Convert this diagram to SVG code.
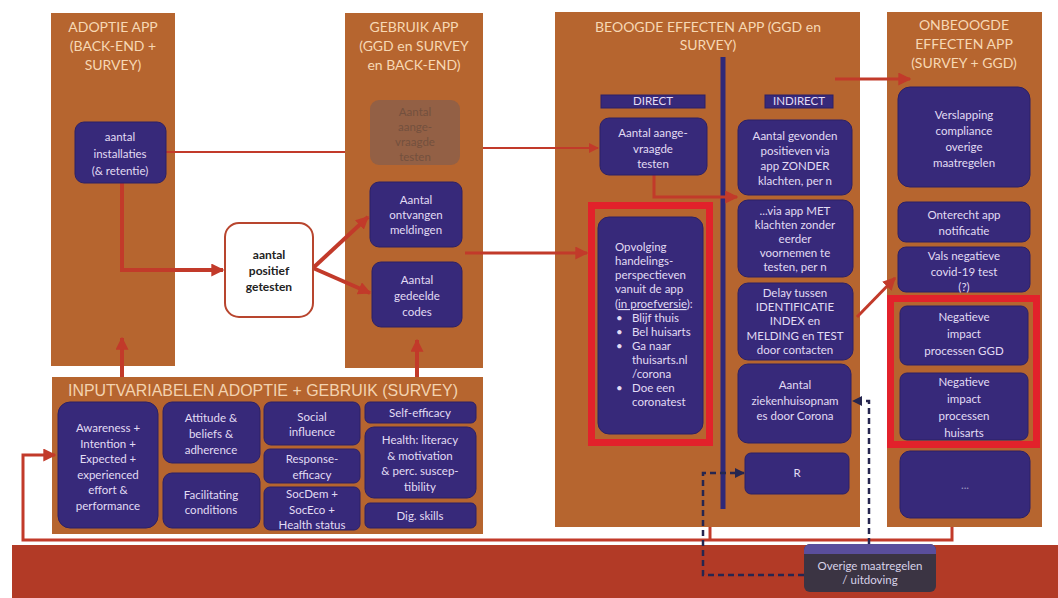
<svg xmlns="http://www.w3.org/2000/svg" width="1058" height="598" viewBox="0 0 1058 598">
<style>
.panel{fill:#B6652F}
.node{fill:#37297A;stroke:#2C2166;stroke-width:1}
.nt{font-family:Lato,"Liberation Sans",sans-serif;fill:#E2DCF4;text-anchor:middle;font-size:11.5px}
.hd{font-family:Lato,"Liberation Sans",sans-serif;fill:#F7D8B4;text-anchor:middle;font-size:14px}
.frame{fill:none;stroke:#E2222B;stroke-width:7}
.ar{stroke:#C23A2A;fill:none;stroke-linejoin:miter}
.thick{stroke-width:4}
.med{stroke-width:3}
.thin{stroke-width:2}
.dash{stroke:#262650;stroke-width:2.5;stroke-dasharray:6 4;fill:none}
</style>
<defs>
<marker id="ah" viewBox="0 0 10 10" refX="9" refY="5" markerWidth="13" markerHeight="13" markerUnits="userSpaceOnUse" orient="auto"><path d="M0,0 L10,5 L0,10 z" fill="#C23A2A"/></marker>
<marker id="ahs" viewBox="0 0 10 10" refX="9" refY="5" markerWidth="10" markerHeight="10" markerUnits="userSpaceOnUse" orient="auto"><path d="M0,0 L10,5 L0,10 z" fill="#C23A2A"/></marker>
<marker id="ahd" viewBox="0 0 10 10" refX="9" refY="5" markerWidth="10" markerHeight="10" markerUnits="userSpaceOnUse" orient="auto"><path d="M0,0 L10,5 L0,10 z" fill="#262650"/></marker>
</defs>
<rect width="1058" height="598" fill="#FFFFFF"/>
<rect x="12" y="545" width="1046" height="53" fill="#B23A26"/>

<g id="panel-adoptie">
<rect class="panel" x="51" y="13" width="124" height="353"/>
<text class="hd"><tspan x="113" y="32">ADOPTIE APP</tspan><tspan x="113" y="51">(BACK-END +</tspan><tspan x="113" y="70">SURVEY)</tspan></text>
</g>
<g id="panel-gebruik">
<rect class="panel" x="345" y="13" width="138" height="355"/>
<text class="hd"><tspan x="414" y="32">GEBRUIK APP</tspan><tspan x="414" y="51">(GGD en SURVEY</tspan><tspan x="414" y="70">en BACK-END)</tspan></text>
</g>
<g id="panel-beoogd">
<rect class="panel" x="555" y="12" width="305" height="515"/>
<text class="hd"><tspan x="708" y="32">BEOOGDE EFFECTEN APP (GGD en</tspan><tspan x="708" y="50">SURVEY)</tspan></text>
<rect x="720.5" y="57" width="5" height="452" fill="#2E2878"/>
</g>
<g id="panel-onbeoogd">
<rect class="panel" x="887" y="12" width="155" height="515"/>
<text class="hd"><tspan x="964" y="30">ONBEOOGDE</tspan><tspan x="964" y="49">EFFECTEN APP</tspan><tspan x="964" y="68">(SURVEY + GGD)</tspan></text>
</g>
<g id="panel-input">
<rect class="panel" x="52" y="377" width="431" height="157"/>
<text x="263" y="396" font-family="'Liberation Sans',Arial,sans-serif" font-size="16" fill="#F3D3B0" text-anchor="middle" textLength="390" lengthAdjust="spacingAndGlyphs">INPUTVARIABELEN ADOPTIE + GEBRUIK (SURVEY)</text>
</g>

<g id="connectors">
<path class="ar thin" d="M166,152 H345"/>
<path class="ar thin" d="M483,148 H598" marker-end="url(#ahs)"/>
<path class="ar thick" d="M122,183 V270 H223" marker-end="url(#ah)"/>
<path class="ar thick" d="M313,268 L368,217" marker-end="url(#ah)"/>
<path class="ar thick" d="M313,268 L370,293" marker-end="url(#ah)"/>
<path class="ar med" d="M465,253 H587" marker-end="url(#ah)"/>
<path class="ar med" d="M654,175 V197 H737" marker-end="url(#ah)"/>
<path class="ar med" d="M835,79 H910" marker-end="url(#ah)"/>
<path class="ar med" d="M857,317 L895,278" marker-end="url(#ah)"/>
<path class="ar thick" d="M122,377 V338" marker-end="url(#ah)"/>
<path class="ar thick" d="M417,377 V340" marker-end="url(#ah)"/>
<path class="ar med" d="M952,527 V540 H23 V455 H55" marker-end="url(#ah)"/>
<path class="ar med" d="M710,527 V540"/>
<path class="dash" d="M804,575 H703 V473 H744" marker-end="url(#ahd)"/>
<path class="dash" d="M869,544 V401 H853" marker-end="url(#ahd)"/>
</g>

<g id="n-installaties"><rect class="node" x="75" y="122" width="91" height="61" rx="9"/><text class="nt" font-size="12"><tspan x="120" y="141">aantal</tspan><tspan x="120" y="158">installaties</tspan><tspan x="120" y="175">(&amp; retentie)</tspan></text></g>
<g id="n-positief"><rect x="225" y="223" width="88" height="94" rx="14" fill="#FFFFFF" stroke="#B8452E" stroke-width="2"/><text font-family="Lato,'Liberation Sans',sans-serif" font-size="12" font-weight="bold" fill="#222" text-anchor="middle"><tspan x="269" y="259">aantal</tspan><tspan x="269" y="275">positief</tspan><tspan x="269" y="291">getesten</tspan></text></g>

<g id="n-aangevraagd-faded"><rect x="370" y="100" width="90" height="65" rx="9" fill="#936045"/><text class="nt" font-size="11" style="fill:#73503E"><tspan x="415" y="116">Aantal</tspan><tspan x="415" y="131">aange-</tspan><tspan x="415" y="146">vraagde</tspan><tspan x="415" y="161">testen</tspan></text></g>
<g id="n-meldingen"><rect class="node" x="370" y="182" width="92" height="65" rx="9"/><text class="nt" font-size="12"><tspan x="416" y="204">Aantal</tspan><tspan x="416" y="219">ontvangen</tspan><tspan x="416" y="234">meldingen</tspan></text></g>
<g id="n-codes"><rect class="node" x="372" y="262" width="90" height="65" rx="9"/><text class="nt" font-size="12"><tspan x="417" y="284">Aantal</tspan><tspan x="417" y="300">gedeelde</tspan><tspan x="417" y="316">codes</tspan></text></g>

<g id="l-direct"><rect class="node" x="601" y="95" width="104" height="13"/><text class="nt" x="653" y="105" font-size="8.5">DIRECT</text></g>
<g id="l-indirect"><rect class="node" x="765" y="95" width="68" height="13"/><text class="nt" x="799" y="105" font-size="8.5">INDIRECT</text></g>
<g id="n-aangevraagd"><rect class="node" x="600" y="118" width="107" height="57" rx="9"/><text class="nt" font-size="13"><tspan x="653" y="137">Aantal aange-</tspan><tspan x="653" y="153">vraagde</tspan><tspan x="653" y="168">testen</tspan></text></g>
<g id="n-opvolging"><rect class="frame" x="591.5" y="205.5" width="118" height="237"/><rect class="node" x="598" y="217" width="105" height="217" rx="11"/>
<text class="nt" font-size="11" style="text-anchor:start"><tspan x="615" y="251">Opvolging</tspan><tspan x="615" y="265">handelings-</tspan><tspan x="615" y="279">perspectieven</tspan><tspan x="615" y="293">vanuit de app</tspan><tspan x="615" y="308">(<tspan text-decoration="underline">in proefversie</tspan>):</tspan><tspan x="616" y="322">•</tspan><tspan x="632" y="322">Blijf thuis</tspan><tspan x="616" y="336">•</tspan><tspan x="632" y="336">Bel huisarts</tspan><tspan x="616" y="350">•</tspan><tspan x="632" y="350">Ga naar</tspan><tspan x="632" y="364">thuisarts.nl</tspan><tspan x="632" y="378">/corona</tspan><tspan x="616" y="392">•</tspan><tspan x="632" y="392">Doe een</tspan><tspan x="632" y="406">coronatest</tspan></text></g>

<g id="n-zonder"><rect class="node" x="738" y="120" width="114" height="75" rx="10"/><text class="nt" font-size="10.5"><tspan x="795" y="140">Aantal gevonden</tspan><tspan x="795" y="155">positieven via</tspan><tspan x="795" y="170">app ZONDER</tspan><tspan x="795" y="185">klachten, per n</tspan></text></g>
<g id="n-met"><rect class="node" x="738" y="200" width="115" height="77" rx="10"/><text class="nt" font-size="10.5"><tspan x="795" y="215">...via app MET</tspan><tspan x="795" y="229">klachten zonder</tspan><tspan x="795" y="243">eerder</tspan><tspan x="795" y="257">voornemen te</tspan><tspan x="795" y="271">testen, per n</tspan></text></g>
<g id="n-delay"><rect class="node" x="738" y="283" width="115" height="77" rx="10"/><text class="nt" font-size="10.5"><tspan x="795" y="297">Delay tussen</tspan><tspan x="795" y="311">IDENTIFICATIE</tspan><tspan x="795" y="325">INDEX  en</tspan><tspan x="795" y="340">MELDING en TEST</tspan><tspan x="795" y="354">door contacten</tspan></text></g>
<g id="n-ziekenhuis"><rect class="node" x="738" y="364" width="113" height="79" rx="10"/><text class="nt" font-size="10.5"><tspan x="795" y="389">Aantal</tspan><tspan x="795" y="405">ziekenhuisopnam</tspan><tspan x="795" y="420">es door Corona</tspan></text></g>
<g id="n-r"><rect class="node" x="745" y="453" width="104" height="41" rx="6"/><text class="nt" x="797" y="477" font-size="9">R</text></g>

<g id="n-verslapping"><rect class="node" x="898" y="87" width="132" height="100" rx="12"/><text class="nt" font-size="12.5"><tspan x="964" y="119">Verslapping</tspan><tspan x="964" y="135">compliance</tspan><tspan x="964" y="151">overige</tspan><tspan x="964" y="167">maatregelen</tspan></text></g>
<g id="n-onterecht"><rect class="node" x="898" y="202" width="132" height="40" rx="8"/><text class="nt" font-size="12.5"><tspan x="964" y="219">Onterecht app</tspan><tspan x="964" y="235">notificatie</tspan></text></g>
<g id="n-vals"><rect class="node" x="898" y="247" width="132" height="45" rx="8"/><text class="nt" font-size="12"><tspan x="964" y="260">Vals negatieve</tspan><tspan x="964" y="276">covid-19 test</tspan><tspan x="964" y="291">(?)</tspan></text></g>
<g id="frame-negatief"><rect class="frame" x="890.5" y="298.5" width="146" height="146"/></g>
<g id="n-neg-ggd"><rect class="node" x="900" y="306" width="128" height="59" rx="7"/><text class="nt" font-size="12.5"><tspan x="964" y="321">Negatieve</tspan><tspan x="964" y="338">impact</tspan><tspan x="964" y="355">processen GGD</tspan></text></g>
<g id="n-neg-huisarts"><rect class="node" x="900" y="373" width="128" height="67" rx="7"/><text class="nt" font-size="12.5"><tspan x="964" y="386">Negatieve</tspan><tspan x="964" y="403">impact</tspan><tspan x="964" y="420">processen</tspan><tspan x="964" y="437">huisarts</tspan></text></g>
<g id="n-dots"><rect class="node" x="900" y="451" width="130" height="67" rx="10"/><text class="nt" x="965" y="489" font-size="9" style="fill:#9C96C0">...</text></g>

<g id="n-awareness"><rect class="node" x="58" y="402" width="100" height="126" rx="12"/><text class="nt"><tspan x="108" y="432">Awareness +</tspan><tspan x="108" y="448">Intention +</tspan><tspan x="108" y="463">Expected +</tspan><tspan x="108" y="479">experienced</tspan><tspan x="108" y="494">effort &amp;</tspan><tspan x="108" y="510">performance</tspan></text></g>
<g id="n-attitude"><rect class="node" x="163" y="402" width="97" height="61" rx="9"/><text class="nt"><tspan x="211" y="422">Attitude &amp;</tspan><tspan x="211" y="438">beliefs &amp;</tspan><tspan x="211" y="454">adherence</tspan></text></g>
<g id="n-facilitating"><rect class="node" x="163" y="473" width="97" height="55" rx="9"/><text class="nt"><tspan x="211" y="499">Facilitating</tspan><tspan x="211" y="514">conditions</tspan></text></g>
<g id="n-social"><rect class="node" x="264" y="402" width="96" height="43" rx="7"/><text class="nt"><tspan x="312" y="421">Social</tspan><tspan x="312" y="436">influence</tspan></text></g>
<g id="n-response"><rect class="node" x="264" y="449" width="96" height="34" rx="6"/><text class="nt"><tspan x="312" y="463">Response-</tspan><tspan x="312" y="479">efficacy</tspan></text></g>
<g id="n-socdem"><rect class="node" x="264" y="487" width="96" height="43" rx="6"/><text class="nt"><tspan x="312" y="498">SocDem +</tspan><tspan x="312" y="514">SocEco +</tspan><tspan x="312" y="529">Health status</tspan></text></g>
<g id="n-selfefficacy"><rect class="node" x="365" y="402" width="111" height="21" rx="5"/><text class="nt" x="420" y="417">Self-efficacy</text></g>
<g id="n-health"><rect class="node" x="365" y="427" width="111" height="71" rx="9"/><text class="nt"><tspan x="420" y="444">Health: literacy</tspan><tspan x="420" y="460">&amp; motivation</tspan><tspan x="420" y="475">&amp; perc. suscep-</tspan><tspan x="420" y="491">tibility</tspan></text></g>
<g id="n-digskills"><rect class="node" x="365" y="503" width="111" height="25" rx="5"/><text class="nt" x="420" y="520">Dig. skills</text></g>

<g id="n-overige"><rect x="804" y="544" width="132" height="48" rx="6" fill="#3B3443"/><path d="M810,544 H930 A6,6 0 0 1 936,550 V554 H804 V550 A6,6 0 0 1 810,544 Z" fill="#5A4E9C"/><text class="nt" font-size="9.5" style="fill:#D8D2E8"><tspan x="870" y="570">Overige maatregelen</tspan><tspan x="870" y="584">/ uitdoving</tspan></text></g>
</svg>
